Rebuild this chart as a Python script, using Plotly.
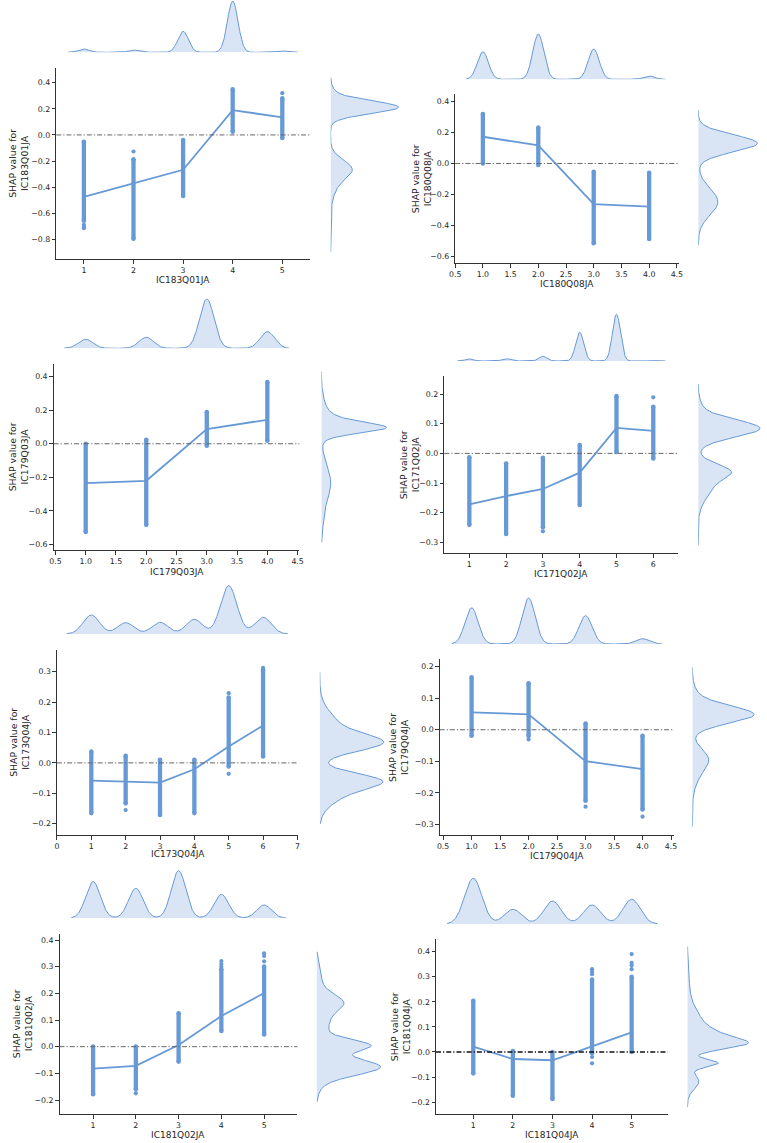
import numpy as np
import plotly.graph_objects as go

W, H = 767, 1143
BLUE = "#6699d6"
FILL = "rgba(102,153,214,0.25)"
FONT = "DejaVu Sans"

# ---------------- data ----------------
# Panel 1
P1_NAME = "IC183Q01JA"
P1_CATS = [1, 2, 3, 4, 5]
P1_LO = [-0.657, -0.795, -0.468, 0.025, -0.023]
P1_HI = [-0.052, -0.187, -0.039, 0.349, 0.28]
P1_MEAN = [-0.474, -0.37, -0.267, 0.19, 0.135]
P1_OUT_X = [1, 1, 1, 2, 5]
P1_OUT_Y = [-0.69, -0.705, -0.715, -0.127, 0.32]
P1_TOP_COUNTS = [3.3, 2.3, 21, 51.3, 1.3]
P1_TOP_BW = 0.107
P1_R_CENTER = [0.212, 0.32, -0.26, -0.38, -0.7]
P1_R_SIGMA = [0.048, 0.05, 0.07, 0.09, 0.08]
P1_R_WEIGHT = [69, 3, 20, 5, 1.5]
P1_R_SPAN = [-0.897, 0.44]
P1_YTICKS = [-0.8, -0.6, -0.4, -0.2, 0.0, 0.2, 0.4]
P1_XTICKS = [1, 2, 3, 4, 5]

# Panel 2
P2_NAME = "IC180Q08JA"
P2_CATS = [1, 2, 3, 4]
P2_LO = [0.0, -0.01, -0.517, -0.49]
P2_HI = [0.32, 0.232, -0.054, -0.06]
P2_MEAN = [0.173, 0.117, -0.263, -0.28]
P2_OUT_X = []
P2_OUT_Y = []
P2_TOP_COUNTS = [27.6, 45.3, 30.3, 3.3]
P2_TOP_BW = 0.1
P2_R_CENTER = [0.13, -0.248]
P2_R_SIGMA = [0.055, 0.085]
P2_R_WEIGHT = [60, 20]
P2_R_SPAN = [-0.53, 0.346]
P2_YTICKS = [-0.6, -0.4, -0.2, 0.0, 0.2, 0.4]
P2_XTICKS = [0.5, 1.0, 1.5, 2.0, 2.5, 3.0, 3.5, 4.0, 4.5]

# Panel 3
P3_NAME = "IC179Q03JA"
P3_CATS = [1, 2, 3, 4]
P3_LO = [-0.527, -0.484, -0.012, 0.018]
P3_HI = [0.0, 0.024, 0.189, 0.368]
P3_MEAN = [-0.235, -0.221, 0.088, 0.143]
P3_OUT_X = []
P3_OUT_Y = []
P3_TOP_COUNTS = [9, 11, 49.3, 16.7]
P3_TOP_BW = 0.12
P3_R_CENTER = [0.094, 0.12, 0.23, -0.234, -0.45]
P3_R_SIGMA = [0.03, 0.05, 0.06, 0.1, 0.07]
P3_R_WEIGHT = [50, 18, 3, 9.5, 1.5]
P3_R_SPAN = [-0.59, 0.43]
P3_YTICKS = [-0.6, -0.4, -0.2, 0.0, 0.2, 0.4]
P3_XTICKS = [0.5, 1.0, 1.5, 2.0, 2.5, 3.0, 3.5, 4.0, 4.5]

# Panel 4
P4_NAME = "IC171Q02JA"
P4_CATS = [1, 2, 3, 4, 5, 6]
P4_LO = [-0.241, -0.272, -0.249, -0.174, 0.005, -0.017]
P4_HI = [-0.013, -0.034, -0.015, 0.028, 0.193, 0.157]
P4_MEAN = [-0.172, -0.144, -0.12, -0.065, 0.086, 0.076]
P4_OUT_X = [3, 6]
P4_OUT_Y = [-0.263, 0.189]
P4_TOP_COUNTS = [2, 2.3, 4.7, 28.7, 46.7, 0.7]
P4_TOP_BW = 0.11
P4_R_CENTER = [0.084, 0.15, -0.06, -0.105]
P4_R_SIGMA = [0.029, 0.03, 0.024, 0.045]
P4_R_WEIGHT = [62.7, 3, 25, 14]
P4_R_SPAN = [-0.31, 0.234]
P4_YTICKS = [-0.3, -0.2, -0.1, 0.0, 0.1, 0.2]
P4_XTICKS = [1, 2, 3, 4, 5, 6]

# Panel 5
P5_NAME = "IC173Q04JA"
P5_CATS = [1, 2, 3, 4, 5, 6]
P5_LO = [-0.165, -0.133, -0.171, -0.165, -0.012, 0.021]
P5_HI = [0.037, 0.023, 0.01, 0.01, 0.215, 0.306]
P5_MEAN = [-0.058, -0.062, -0.065, -0.021, 0.054, 0.123]
P5_OUT_X = [2, 5, 5, 6]
P5_OUT_Y = [-0.155, 0.229, -0.036, 0.312]
P5_TOP_COUNTS = [19, 11.3, 11.7, 14.7, 48.3, 16.7]
P5_TOP_BW = 0.24
P5_R_CENTER = [0.065, 0.11, -0.058, -0.09]
P5_R_SIGMA = [0.027, 0.05, 0.024, 0.04]
P5_R_WEIGHT = [51, 20, 45, 25]
P5_R_SPAN = [-0.2, 0.3]
P5_YTICKS = [-0.2, -0.1, 0.0, 0.1, 0.2, 0.3]
P5_XTICKS = [0, 1, 2, 3, 4, 5, 6, 7]

# Panel 6
P6_NAME = "IC179Q04JA"
P6_CATS = [1, 2, 3, 4]
P6_LO = [-0.019, -0.02, -0.225, -0.253]
P6_HI = [0.166, 0.147, 0.02, -0.019]
P6_MEAN = [0.055, 0.049, -0.1, -0.125]
P6_OUT_X = [2, 3, 4]
P6_OUT_Y = [-0.031, -0.244, -0.276]
P6_TOP_COUNTS = [36.3, 46, 28.3, 5.3]
P6_TOP_BW = 0.115
P6_R_CENTER = [0.047, 0.09, -0.09, -0.12]
P6_R_SIGMA = [0.027, 0.035, 0.03, 0.045]
P6_R_WEIGHT = [60, 6, 10, 8]
P6_R_SPAN = [-0.308, 0.198]
P6_YTICKS = [-0.3, -0.2, -0.1, 0.0, 0.1, 0.2]
P6_XTICKS = [0.5, 1.0, 1.5, 2.0, 2.5, 3.0, 3.5, 4.0, 4.5]

# Panel 7
P7_NAME = "IC181Q02JA"
P7_CATS = [1, 2, 3, 4, 5]
P7_LO = [-0.178, -0.16, -0.056, 0.059, 0.046]
P7_HI = [0.0, 0.0, 0.125, 0.29, 0.30]
P7_MEAN = [-0.0825, -0.072, 0.006, 0.115, 0.201]
P7_OUT_X = [2, 4, 4, 4, 5, 5, 5]
P7_OUT_Y = [-0.175, 0.30, 0.31, 0.321, 0.32, 0.34, 0.35]
P7_TOP_COUNTS = [36.3, 29.7, 47.3, 23.7, 13]
P7_TOP_BW = 0.17
P7_R_CENTER = [0.165, 0.08, 0.004, -0.075, -0.12, 0.25]
P7_R_SIGMA = [0.032, 0.05, 0.022, 0.03, 0.04, 0.05]
P7_R_WEIGHT = [24, 12, 50, 62, 6, 5]
P7_R_SPAN = [-0.206, 0.356]
P7_YTICKS = [-0.2, -0.1, 0.0, 0.1, 0.2, 0.3, 0.4]
P7_XTICKS = [1, 2, 3, 4, 5]

# Panel 8
P8_NAME = "IC181Q04JA"
P8_CATS = [1, 2, 3, 4, 5]
P8_LO = [-0.085, -0.174, -0.187, -0.005, 0.0]
P8_HI = [0.204, 0.004, 0.0, 0.288, 0.299]
P8_MEAN = [0.021, -0.028, -0.033, 0.021, 0.078]
P8_OUT_X = [4, 4, 4, 4, 4, 5, 5, 5, 5]
P8_OUT_Y = [-0.02, -0.045, 0.31, 0.32, 0.33, 0.33, 0.345, 0.355, 0.39]
P8_TOP_COUNTS = [45.7, 14.7, 23, 19, 24.7]
P8_TOP_BW = 0.22
P8_R_CENTER = [0.032, 0.07, 0.1, -0.045, -0.118, 0.25]
P8_R_SIGMA = [0.022, 0.025, 0.06, 0.015, 0.03, 0.08]
P8_R_WEIGHT = [50, 15, 16, 31, 12, 2]
P8_R_SPAN = [-0.22, 0.42]
P8_YTICKS = [-0.2, -0.1, 0.0, 0.1, 0.2, 0.3, 0.4]
P8_XTICKS = [1, 2, 3, 4, 5]

PANELS = [
    (P1_NAME, P1_CATS, P1_LO, P1_HI, P1_MEAN, P1_OUT_X, P1_OUT_Y, P1_TOP_COUNTS, P1_TOP_BW,
     P1_R_CENTER, P1_R_SIGMA, P1_R_WEIGHT, P1_R_SPAN, P1_YTICKS, P1_XTICKS),
    (P2_NAME, P2_CATS, P2_LO, P2_HI, P2_MEAN, P2_OUT_X, P2_OUT_Y, P2_TOP_COUNTS, P2_TOP_BW,
     P2_R_CENTER, P2_R_SIGMA, P2_R_WEIGHT, P2_R_SPAN, P2_YTICKS, P2_XTICKS),
    (P3_NAME, P3_CATS, P3_LO, P3_HI, P3_MEAN, P3_OUT_X, P3_OUT_Y, P3_TOP_COUNTS, P3_TOP_BW,
     P3_R_CENTER, P3_R_SIGMA, P3_R_WEIGHT, P3_R_SPAN, P3_YTICKS, P3_XTICKS),
    (P4_NAME, P4_CATS, P4_LO, P4_HI, P4_MEAN, P4_OUT_X, P4_OUT_Y, P4_TOP_COUNTS, P4_TOP_BW,
     P4_R_CENTER, P4_R_SIGMA, P4_R_WEIGHT, P4_R_SPAN, P4_YTICKS, P4_XTICKS),
    (P5_NAME, P5_CATS, P5_LO, P5_HI, P5_MEAN, P5_OUT_X, P5_OUT_Y, P5_TOP_COUNTS, P5_TOP_BW,
     P5_R_CENTER, P5_R_SIGMA, P5_R_WEIGHT, P5_R_SPAN, P5_YTICKS, P5_XTICKS),
    (P6_NAME, P6_CATS, P6_LO, P6_HI, P6_MEAN, P6_OUT_X, P6_OUT_Y, P6_TOP_COUNTS, P6_TOP_BW,
     P6_R_CENTER, P6_R_SIGMA, P6_R_WEIGHT, P6_R_SPAN, P6_YTICKS, P6_XTICKS),
    (P7_NAME, P7_CATS, P7_LO, P7_HI, P7_MEAN, P7_OUT_X, P7_OUT_Y, P7_TOP_COUNTS, P7_TOP_BW,
     P7_R_CENTER, P7_R_SIGMA, P7_R_WEIGHT, P7_R_SPAN, P7_YTICKS, P7_XTICKS),
    (P8_NAME, P8_CATS, P8_LO, P8_HI, P8_MEAN, P8_OUT_X, P8_OUT_Y, P8_TOP_COUNTS, P8_TOP_BW,
     P8_R_CENTER, P8_R_SIGMA, P8_R_WEIGHT, P8_R_SPAN, P8_YTICKS, P8_XTICKS),
]

# ---------------- layout geometry (pixels) ----------------
MAIN_BOX = [(51, 308, 68, 259), (455.7, 682.3, 94.3, 263.3), (48.3, 297.7, 364, 550),
            (444.7, 681.7, 376, 553.3), (51.7, 296.7, 650, 835), (440, 677.3, 659.3, 835),
            (54.3, 295.7, 934, 1114), (436.3, 671.3, 939, 1114)]
X_RANGE = [(0.443, 5.55), (0.5, 4.53), (0.47, 4.53), (0.32, 6.67), (0.0, 7.03),
           (0.44, 4.545), (0.215, 5.78), (0.06, 5.91)]
Y_RANGE = [(-0.951, 0.513), (-0.647, 0.448), (-0.634, 0.476), (-0.337, 0.261),
           (-0.237, 0.371), (-0.334, 0.2235), (-0.2525, 0.4225), (-0.247, 0.45)]
X_DEC = [0, 1, 1, 0, 0, 1, 0, 0]
TOP_BASE = [52.3, 79.3, 348.3, 361, 634, 644, 918, 924]
TOP_PEAK = [51.3, 45.3, 49.3, 46.7, 48.3, 46, 47.3, 45.7]
RIGHT_BASE = [329.3, 702.3, 320, 702.3, 318.3, 696.3, 315, 691.3]
RIGHT_PEAK = [69, 60, 66, 62.7, 65, 62.7, 65, 62]
YT_X = [12.5, 421.5, 12.5, 409.5, 13.5, 397.5, 16.5, 400.5]
XT_Y = [279.5, 283.5, 572, 573.5, 854, 856, 1134.5, 1134.5]
ZERO_COLOR = ["#666666"] * 7 + ["#111111"]
ZERO_WIDTH = [1.0] * 7 + [1.5]


def fmt(v, d):
    s = f"{abs(v):.{d}f}"
    return ("\u2212" + s) if v < -1e-9 else s


def px_x(v):
    return min(max(v / W, 0.0), 1.0)


def px_y(v):
    return min(max(1 - v / H, 0.0), 1.0)


def sfx(n):
    return "" if n == 1 else str(n)


fig = go.Figure()
layout = dict(width=W, height=H, margin=dict(l=0, r=0, t=0, b=0),
              paper_bgcolor="white", plot_bgcolor="white", showlegend=False,
              font=dict(family=FONT, color="#262626"))
annotations = []
shapes = []

for i, p in enumerate(PANELS):
    (name, cats, lo, hi, mean, ox, oy, tcounts, tbw,
     rc, rs, rw, rspan, yticks, xticks) = p
    l, r, t, b = MAIN_BOX[i]
    nm, nt, nr = 3 * i + 1, 3 * i + 2, 3 * i + 3
    xm, ym = "x" + sfx(nm), "y" + sfx(nm)
    xt, yt = "x" + sfx(nt), "y" + sfx(nt)
    xr, yr = "x" + sfx(nr), "y" + sfx(nr)

    # strips of SHAP values per category
    sx, sy = [], []
    for c, a, z in zip(cats, lo, hi):
        sx += [c, c, None]
        sy += [a, z, None]
    fig.add_trace(go.Scatter(x=sx, y=sy, mode="lines+markers", xaxis=xm, yaxis=ym,
                             line=dict(color=BLUE, width=4.3),
                             marker=dict(color=BLUE, size=4.6), hoverinfo="skip"))
    if ox:
        fig.add_trace(go.Scatter(x=ox, y=oy, mode="markers", xaxis=xm, yaxis=ym,
                                 marker=dict(color=BLUE, size=4.2), hoverinfo="skip"))
    fig.add_trace(go.Scatter(x=cats, y=mean, mode="lines", xaxis=xm, yaxis=ym,
                             line=dict(color=BLUE, width=1.8), hoverinfo="skip"))

    # top marginal KDE
    xs = np.linspace(min(cats) - 3 * tbw, max(cats) + 3 * tbw, 500)
    dens = np.zeros_like(xs)
    for c, h in zip(cats, tcounts):
        dens += h * np.exp(-0.5 * ((xs - c) / tbw) ** 2)
    fig.add_trace(go.Scatter(x=xs, y=dens, mode="lines", xaxis=xt, yaxis=yt,
                             fill="tozeroy", fillcolor=FILL,
                             line=dict(color=BLUE, width=1), hoverinfo="skip"))

    # right marginal KDE
    ys = np.linspace(rspan[0], rspan[1], 600)
    rd = np.zeros_like(ys)
    for c, s, w in zip(rc, rs, rw):
        rd += w * np.exp(-0.5 * ((ys - c) / s) ** 2)
    fig.add_trace(go.Scatter(x=rd, y=ys, mode="lines", xaxis=xr, yaxis=yr,
                             fill="tozerox", fillcolor=FILL,
                             line=dict(color=BLUE, width=1), hoverinfo="skip"))

    # axes
    tick_font = dict(family=FONT, size=7.8, color="#262626")
    layout["xaxis" + sfx(nm)] = dict(
        domain=[px_x(l), px_x(r)], anchor=ym, range=list(X_RANGE[i]),
        showline=True, linecolor="#333333", linewidth=1, ticks="outside",
        ticklen=3.5, tickwidth=0.8, tickcolor="#333333", showgrid=False,
        zeroline=False, tickvals=xticks, ticktext=[fmt(v, X_DEC[i]) for v in xticks],
        tickfont=tick_font)
    layout["yaxis" + sfx(nm)] = dict(
        domain=[px_y(b), px_y(t)], anchor=xm, range=list(Y_RANGE[i]),
        showline=True, linecolor="#333333", linewidth=1, ticks="outside",
        ticklen=3.5, tickwidth=0.8, tickcolor="#333333", showgrid=False,
        zeroline=False, tickvals=yticks, ticktext=[fmt(v, 1) for v in yticks],
        tickfont=tick_font)

    tb = TOP_BASE[i]
    ttop = max(0.0, tb - TOP_PEAK[i] * 1.05)
    tmax = float(dens.max()) * (tb - ttop) / TOP_PEAK[i]
    layout["xaxis" + sfx(nt)] = dict(domain=[px_x(l), px_x(r)], anchor=yt,
                                     range=list(X_RANGE[i]), visible=False)
    layout["yaxis" + sfx(nt)] = dict(domain=[px_y(tb), px_y(ttop)], anchor=xt,
                                     range=[0, tmax], visible=False)

    rb = RIGHT_BASE[i]
    rright = min(float(W), rb + RIGHT_PEAK[i] * 1.05)
    rmax = float(rd.max()) * (rright - rb) / RIGHT_PEAK[i]
    layout["xaxis" + sfx(nr)] = dict(domain=[px_x(rb), px_x(rright)], anchor=yr,
                                     range=[0, rmax], visible=False)
    layout["yaxis" + sfx(nr)] = dict(domain=[px_y(b), px_y(t)], anchor=xr,
                                     range=list(Y_RANGE[i]), visible=False)

    # zero reference line (dash-dot)
    shapes.append(dict(type="line", xref=xm + " domain", yref=ym, x0=0, x1=1, y0=0, y1=0,
                       line=dict(color=ZERO_COLOR[i], width=ZERO_WIDTH[i],
                                 dash="5px,2px,1.2px,2px"), layer="above"))

    # axis titles
    annotations.append(dict(text=name, xref="paper", yref="paper",
                            x=px_x((l + r) / 2), y=px_y(XT_Y[i]), showarrow=False,
                            xanchor="center", yanchor="middle",
                            font=dict(family=FONT, size=9, color="#262626")))
    annotations.append(dict(text="SHAP value for<br>" + name, xref="paper", yref="paper",
                            x=px_x(YT_X[i]), y=px_y((t + b) / 2), showarrow=False,
                            textangle=-90, xanchor="center", yanchor="middle",
                            font=dict(family=FONT, size=9.3, color="#262626")))

layout["annotations"] = annotations
layout["shapes"] = shapes
fig.update_layout(**layout)
fig.write_html("out.html")
